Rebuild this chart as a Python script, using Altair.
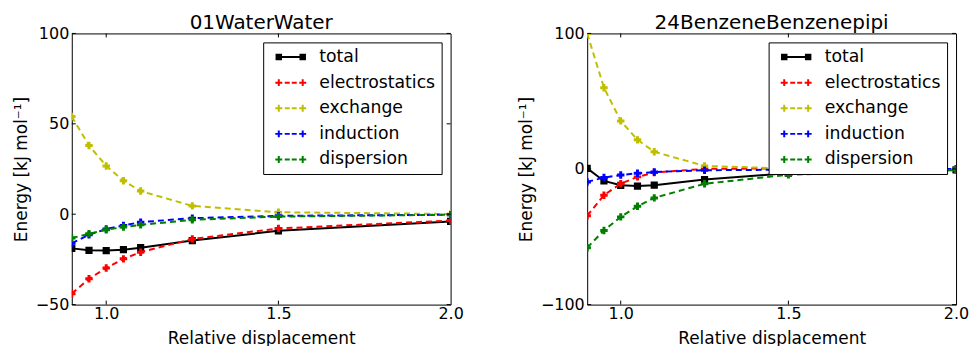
import altair as alt
import pandas as pd

# Relative displacement of the two monomers
displacement = [0.9, 0.95, 1.0, 1.05, 1.1, 1.25, 1.5, 2.0]
components = ["total", "electrostatics", "exchange", "induction", "dispersion"]
component_colors = ["#000000", "#ff0000", "#bfbf00", "#0000ff", "#008000"]

# 01WaterWater energies (kJ/mol)
water_total = [-18.9, -20.0, -20.1, -19.6, -18.5, -14.6, -9.2, -4.0]
water_electrostatics = [-44.0, -35.7, -29.7, -24.7, -21.0, -13.7, -7.9, -3.5]
water_exchange = [54.0, 38.0, 26.7, 18.5, 12.8, 4.6, 1.1, 0.1]
water_induction = [-16.0, -11.4, -8.2, -6.2, -4.4, -2.2, -0.9, -0.3]
water_dispersion = [-13.2, -10.8, -8.6, -7.1, -5.9, -3.1, -1.3, -0.3]

# 24BenzeneBenzenepipi energies (kJ/mol)
benzene_total = [0.5, -8.8, -12.0, -12.6, -11.9, -7.8, -3.0, -0.7]
benzene_electrostatics = [-34.5, -19.3, -10.8, -5.8, -2.6, 0.1, 0.5, 0.0]
benzene_exchange = [100.0, 60.0, 35.5, 21.5, 12.7, 2.3, 0.3, 0.0]
benzene_induction = [-9.5, -6.3, -4.4, -3.2, -2.2, -0.9, -0.5, 0.0]
benzene_dispersion = [-58.0, -45.3, -35.3, -27.5, -21.3, -10.9, -4.2, -0.8]

x_ticks = [1.0, 1.5, 2.0]

FONT = "DejaVu Sans"
FRAME_H = 272

# legend glyphs: a short line with markers at both ends (units of 5 px)
SOLID_SQUARES = ("M-2.4,0H2.4 M-2.85,-0.45H-1.95V0.45H-2.85Z "
                 "M1.95,-0.45H2.85V0.45H1.95Z")
DASHED_PLUS = ("M-3.1,0H-1.7M-2.4,-0.7V0.7 M1.7,0H3.1M2.4,-0.7V0.7 "
               "M-1.2,0H-0.2 M0.2,0H1.2")
legend_shapes = [SOLID_SQUARES] + [DASHED_PLUS] * 4


def panel(title, series, y_domain, y_ticks, width):
    rows = []
    for name, vals in zip(components, series):
        for xv, yv in zip(displacement, vals):
            rows.append({"x": xv, "energy": yv, "component": name})
    df = pd.DataFrame(rows)

    xs = alt.Scale(domain=[0.9, 2.0], nice=False, zero=False)
    ys = alt.Scale(domain=y_domain, nice=False, zero=False)
    x_axis = alt.Axis(values=x_ticks, format=".1f", labelFlush=False,
                      labelOverlap=False, labelBound=False, ticks=False,
                      domain=False, grid=False, labelFontSize=16,
                      labelPadding=1, titleFontSize=17, titlePadding=9,
                      titleFontWeight="normal", labelColor="black",
                      titleColor="black", labelFont=FONT, titleFont=FONT)
    y_axis = alt.Axis(values=y_ticks, format="d", labelFlush=False,
                      labelOverlap=False, labelBound=False, ticks=False,
                      domain=False, grid=False, labelFontSize=16,
                      labelPadding=3, titleFontSize=17, titlePadding=5,
                      titleFontWeight="normal", labelColor="black",
                      titleColor="black", labelFont=FONT, titleFont=FONT)
    X = alt.X("x:Q", scale=xs, axis=x_axis, title="Relative displacement")
    Y = alt.Y("energy:Q", scale=ys, axis=y_axis, title="Energy [kJ mol⁻¹]")

    layers = []
    for name, col in zip(components, component_colors):
        sub = alt.Chart(df).transform_filter(alt.datum.component == name)
        if name == "total":
            line = sub.mark_line(color=col, strokeWidth=2, clip=True)
            pts = sub.mark_point(shape="square", filled=True, size=52,
                                 color=col, opacity=1, clip=True)
        else:
            line = sub.mark_line(color=col, strokeWidth=2, strokeDash=[6, 4],
                                 clip=True)
            pts = sub.mark_point(shape="cross", filled=True, size=56,
                                 color=col, opacity=1, clip=True)
        layers.append(line.encode(x=X, y=Y))
        layers.append(pts.encode(x=X, y=Y))

    # legend carrier (no drawn points)
    legend = alt.Legend(title=None, orient="top-right", offset=9,
                        fillColor="white", strokeColor="black",
                        cornerRadius=0, padding=6, rowPadding=7.7,
                        symbolSize=100, symbolStrokeWidth=2,
                        symbolOffset=13, labelOffset=20,
                        labelFont=FONT, labelFontSize=17.3, labelColor="black",
                        symbolOpacity=1)
    dom = alt.Scale(domain=components, range=component_colors)
    leg = alt.Chart(df).transform_filter("false").mark_point(
        filled=True, opacity=1).encode(
        x=X, y=Y,
        fill=alt.Fill("component:N", scale=dom, legend=legend),
        stroke=alt.Stroke("component:N", scale=dom, legend=legend),
        shape=alt.Shape("component:N",
                        scale=alt.Scale(domain=components, range=legend_shapes),
                        legend=legend),
    )
    layers.append(leg)

    # inward tick marks on all four sides
    xt = pd.DataFrame({"x": [v for v in x_ticks if v < 2.0]})
    yt = pd.DataFrame({"energy": y_ticks})
    XT = alt.X("x:Q", scale=xs, title="Relative displacement")
    YT = alt.Y("energy:Q", scale=ys, title="Energy [kJ mol⁻¹]")
    layers.append(alt.Chart(xt).mark_rule(color="black").encode(
        x=XT, y=alt.value(FRAME_H), y2=alt.value(FRAME_H - 4)))
    layers.append(alt.Chart(xt).mark_rule(color="black").encode(
        x=XT, y=alt.value(0), y2=alt.value(4)))
    layers.append(alt.Chart(yt).mark_rule(color="black").encode(
        y=YT, x=alt.value(0), x2=alt.value(4)))
    layers.append(alt.Chart(yt).mark_rule(color="black").encode(
        y=YT, x=alt.value(width), x2=alt.value(width - 4)))

    return alt.layer(*layers).properties(
        width=width, height=FRAME_H,
        title=alt.TitleParams(title, fontSize=20, font=FONT,
                              fontWeight="normal", color="black",
                              anchor="middle", offset=-8),
    ).resolve_scale(x="shared", y="shared")


left = panel("01WaterWater",
             [water_total, water_electrostatics, water_exchange,
              water_induction, water_dispersion],
             [-50, 100], [-50, 0, 50, 100], 380)
right = panel("24BenzeneBenzenepipi",
              [benzene_total, benzene_electrostatics, benzene_exchange,
               benzene_induction, benzene_dispersion],
              [-100, 100], [-100, 0, 100], 370)

chart = alt.hconcat(left, right, spacing=52).resolve_scale(
    fill="independent", stroke="independent", shape="independent",
    y="independent", x="independent",
).properties(
    padding={"left": 11, "top": 12, "right": 0, "bottom": 0},
    background="white",
).configure_view(stroke="black", strokeWidth=1)

chart.save("out.html", embed_options={"renderer": "svg", "actions": False})
